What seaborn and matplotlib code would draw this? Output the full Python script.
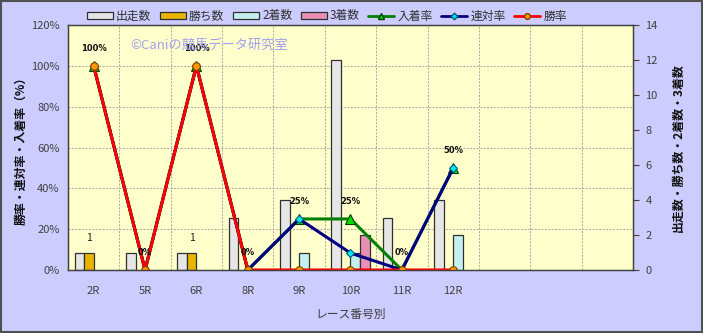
import numpy as np
import pandas as pd
import matplotlib
matplotlib.use("Agg")
import matplotlib.pyplot as plt
import seaborn as sns
from matplotlib.ticker import FixedLocator, FuncFormatter
from matplotlib.patches import Rectangle, Patch
from matplotlib.lines import Line2D

# ---------------- data ----------------
races = ["2R", "5R", "6R", "8R", "9R", "10R", "11R", "12R"]
n_slots = 11
count_names = ["出走数", "勝ち数", "2着数", "3着数"]
starts = [1, 1, 1, 3, 4, 12, 3, 4]
wins = [1, 0, 1, 0, 0, 0, 0, 0]
seconds = [0, 0, 0, 0, 1, 1, 0, 2]
thirds = [0, 0, 0, 0, 0, 2, 0, 0]
rate_names = ["入着率", "連対率", "勝率"]
place_rate = [100, 0, 100, 0, 25, 25, 0, 50]
rentai_rate = [100, 0, 100, 0, 25, 8.3, 0, 50]
win_rate = [100, 0, 100, 0, 0, 0, 0, 0]
pct_labels = ["100%", "0%", "100%", "0%", "25%", "25%", "0%", "50%"]

# ---------------- style ----------------
sns.set_style("white")
plt.rcParams["font.family"] = ["Noto Sans CJK JP", "DejaVu Sans"]

bar_colors = ["#E6E6E6", "#E8B400", "#C4F0F0", "#E890B4"]
bar_pal = dict(zip(count_names, bar_colors))
tick_col = "#404040"

fig = plt.figure(figsize=(7.03, 3.33), dpi=100, facecolor="#CCCCFF")
ax_b = fig.add_axes([68 / 703, 1 - 270 / 333, 565 / 703, 245 / 333])
ax_b.set_facecolor("#FFFFCC")

count_df = pd.DataFrame({
    "race": races * 4,
    "series": sum([[n] * len(races) for n in count_names], []),
    "value": starts + wins + seconds + thirds,
})
count_df = count_df[count_df["value"] > 0]

sns.barplot(data=count_df, x="race", y="value", hue="series", order=races,
            hue_order=count_names, palette=bar_pal, width=0.74, saturation=1,
            edgecolor="#303030", linewidth=0.9, ax=ax_b, legend=False,
            errorbar=None, zorder=2)

# count labels above 勝ち数 bars
ax_b.bar_label(ax_b.containers[1], padding=7, fontsize=7.5, color="#202020")

# ---------------- rate lines ----------------
ax_l = ax_b.twinx()
rate_df = pd.DataFrame({"race": races, "入着率": place_rate,
                        "連対率": rentai_rate, "勝率": win_rate})
line_styles = {
    "入着率": dict(color="#008000", marker="^", mfc="#00E000", mec="#004000", ms=6.5),
    "連対率": dict(color="#000080", marker="D", mfc="#00E8F0", mec="#006080", ms=4.5),
    "勝率": dict(color="#FF0000", marker="o", mfc="#FF9900", mec="#804000", ms=5.5),
}
for name in rate_names:
    st = line_styles[name]
    sns.pointplot(data=rate_df, x="race", y=name, order=races, ax=ax_l,
                  color=st["color"], markers=st["marker"], errorbar=None,
                  markerfacecolor=st["mfc"], markeredgecolor=st["mec"],
                  markersize=st["ms"], markeredgewidth=0.8, linewidth=2.2)

for i, (v, lab) in enumerate(zip(place_rate, pct_labels)):
    ax_l.annotate(lab, (i, v), xytext=(0, 12.5), textcoords="offset points",
                  ha="center", va="center", fontsize=6, fontweight="bold",
                  color="#101010", family="DejaVu Sans")

# ---- left (rate) axis ----
ax_l.set_ylim(0, 120)
ax_l.yaxis.tick_left()
ax_l.yaxis.set_label_position("left")
ax_l.set_yticks(range(0, 121, 20))
ax_l.yaxis.set_major_formatter(FuncFormatter(lambda v, p: f"{int(v)}%"))
ax_l.tick_params(axis="y", left=True, right=False, labelleft=True,
                 labelright=False, length=0, colors=tick_col, labelsize=8, pad=6)
ax_l.set_ylabel("勝率・連対率・入着率（%）", fontsize=8.6, color="#101010",
                fontweight="bold")
ax_l.yaxis.set_label_coords(-0.072, 0.5)
ax_l.set_xlabel("")
ax_l.grid(False)

# ---- right (count) axis ----
ax_b.set_ylim(0, 14)
ax_b.yaxis.tick_right()
ax_b.tick_params(axis="y", which="both", left=False, labelleft=False,
                 right=True, labelright=True)
ax_b.set_yticks(range(0, 15, 2))
ax_b.yaxis.set_minor_locator(FixedLocator([14 * k / 6 for k in range(1, 6)]))
ax_b.xaxis.set_minor_locator(FixedLocator([i + 0.5 for i in range(n_slots - 1)]))
ax_b.tick_params(axis="y", which="major", length=4, width=0.8,
                 colors=tick_col, labelsize=8, pad=5)
ax_b.tick_params(axis="y", which="minor", right=False, left=False, length=0)
ax_b.tick_params(axis="x", which="both", bottom=False, top=False, labelsize=8,
                 labelcolor=tick_col, pad=8)
ax_b.xaxis.grid(True, which="minor", color="#A8A8A8", linestyle=(0, (2, 1.5)), linewidth=0.7)
ax_b.yaxis.grid(True, which="minor", color="#A8A8A8", linestyle=(0, (2, 1.5)), linewidth=0.7)
ax_b.xaxis.grid(False, which="major")
ax_b.yaxis.grid(False, which="major")
ax_b.set_axisbelow(True)
ax_b.set_xlabel("レース番号別", fontsize=8.5, color=tick_col)
ax_b.xaxis.set_label_coords(0.5, -0.155)
ax_b.yaxis.set_label_position("right")
ax_b.set_ylabel("出走数・勝ち数・2着数・3着数", fontsize=8.6, color="#101010",
                rotation=90, fontweight="bold")
ax_b.yaxis.set_label_coords(1.068, 0.5)
ax_b.set_xlim(-0.5, n_slots - 0.5)

for ax in (ax_b, ax_l):
    for s in ax.spines.values():
        s.set_color("#404040")
        s.set_linewidth(0.9)

# ---------------- legend ----------------
handles = [Patch(facecolor=c, edgecolor="#303030", linewidth=0.9) for c in bar_colors]
for name in rate_names:
    st = line_styles[name]
    handles.append(Line2D([], [], color=st["color"], marker=st["marker"],
                          markerfacecolor=st["mfc"], markeredgecolor=st["mec"],
                          markersize=st["ms"] * 0.75, linewidth=2))
fig.legend(handles, count_names + rate_names, loc="center",
           bbox_to_anchor=(327 / 703, 1 - 16 / 333), ncol=7, frameon=False,
           fontsize=8.5, handlelength=2.2, handleheight=0.5, handletextpad=0.3,
           columnspacing=0.7, labelcolor="#303030")

fig.text(130 / 703, 1 - 45 / 333, "©Caniの競馬データ研究室", color="#A0A0F4",
         fontsize=9.5, va="center", ha="left")

fig.patches.append(Rectangle((0.001, 0.002), 0.997, 0.995, transform=fig.transFigure,
                             fill=False, edgecolor="#505050", linewidth=1.5))

fig.savefig("out.png", dpi=100, facecolor=fig.get_facecolor())
